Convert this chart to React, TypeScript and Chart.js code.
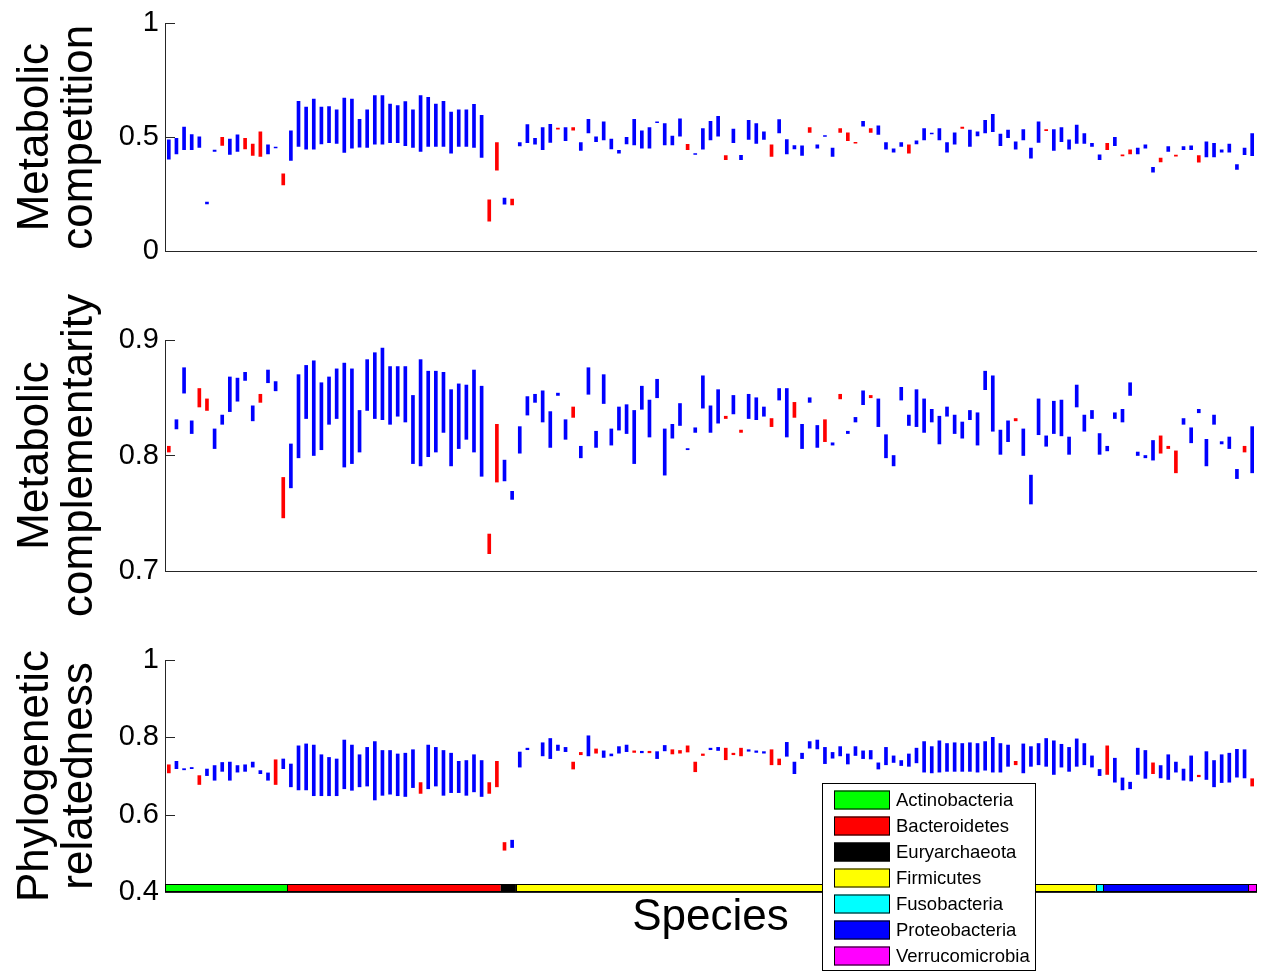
import React, { useEffect, useRef } from 'react';
import { Chart, registerables } from 'chart.js';

Chart.register(...registerables);

const FONT = '"Liberation Sans", Arial, Helvetica, sans-serif';
Chart.defaults.font.family = FONT;

// Phyla along the species axis, in plotting order
const PHYLA = ['Actinobacteria', 'Bacteroidetes', 'Euryarchaeota', 'Firmicutes', 'Fusobacteria', 'Proteobacteria', 'Verrucomicrobia'];
const PHYLUM_COUNTS = [16, 28, 2, 76, 1, 19, 1];
const PHYLUM_COLORS = ['#00ff00', '#ff0000', '#000000', '#ffff00', '#00ffff', '#0000ff', '#ff00ff'];

const SPECIES_COUNT = PHYLUM_COUNTS.reduce((a, b) => a + b, 0);
const SPECIES = Array.from({ length: SPECIES_COUNT }, (_, i) => `Species ${i + 1}`);

type Row = [number, number, number] | null;

// [upper, lower, group] for each species; group 1 is drawn red, group 0 blue
const COMPETITION: Row[] = [
  [.488,.404,0],[.495,.426,0],[.545,.445,0],[.512,.445,0],[.502,.455,0],[.215,.207,0],[.443,.437,0],[.499,.464,1],[.492,.424,0],[.510,.437,0],
  [.495,.449,1],[.470,.420,1],[.524,.416,1],[.466,.426,0],[.457,.453,0],[.339,.290,1],[.528,.398,0],[.658,.459,0],[.632,.447,0],[.668,.447,0],
  [.632,.470,0],[.635,.476,0],[.620,.473,0],[.672,.433,0],[.668,.452,0],[.579,.456,0],[.620,.455,0],[.683,.469,0],[.683,.469,0],[.646,.476,0],
  [.639,.476,0],[.657,.463,0],[.620,.455,0],[.683,.437,0],[.675,.459,0],[.646,.459,0],[.658,.459,0],[.610,.430,0],[.620,.459,0],[.620,.459,0],
  [.644,.455,0],[.596,.411,0],[.225,.131,1],[.476,.355,1],[.232,.206,0],[.228,.202,1],[.476,.462,0],[.555,.476,0],[.495,.469,0],[.542,.445,0],
  [.557,.477,0],[.540,.535,1],[.542,.485,0],[.542,.531,1],[.476,.442,0],[.579,.519,0],[.502,.480,0],[.567,.488,0],[.492,.449,0],[.442,.430,0],
  [.499,.470,0],[.579,.466,0],[.528,.452,0],[.542,.452,0],[.568,.564,0],[.560,.466,0],[.505,.466,0],[.581,.505,0],[.469,.445,1],[.428,.424,0],
  [.538,.447,0],[.570,.488,0],[.592,.505,0],[.419,.401,1],[.536,.476,0],[.420,.401,0],[.574,.490,0],[.560,.473,0],[.524,.490,0],[.466,.416,1],
  [.577,.519,0],[.490,.427,0],[.463,.449,0],[.462,.420,0],[.542,.521,1],[.466,.452,0],[.507,.503,0],[.452,.416,0],[.538,.521,1],[.519,.485,1],
  [.478,.474,1],[.570,.548,0],[.538,.521,1],[.550,.512,0],[.476,.447,0],[.449,.434,0],[.476,.459,0],[.466,.430,1],[.484,.470,0],[.538,.488,0],
  [.518,.514,0],[.538,.488,0],[.476,.434,0],[.519,.469,0],[.545,.539,1],[.531,.459,0],[.524,.506,0],[.574,.519,0],[.600,.524,0],[.514,.463,0],
  [.531,.498,0],[.480,.447,0],[.534,.488,0],[.452,.408,0],[.567,.477,0],[.533,.529,1],[.534,.442,0],[.542,.480,0],[.488,.447,0],[.553,.473,0],
  [.516,.473,0],[.473,.459,0],[.423,.401,0],[.473,.445,1],[.499,.463,0],[.422,.418,1],[.445,.427,1],[.452,.426,0],[.466,.452,0],[.368,.346,0],
  [.408,.391,1],[.459,.437,0],[.421,.417,1],[.459,.445,0],[.462,.445,0],[.419,.390,1],[.480,.413,0],[.473,.413,0],[.445,.434,0],[.470,.434,0],
  [.380,.358,0],[.452,.423,0],[.516,.419,0],
];

const COMPLEMENTARITY: Row[] = [
  [.808,.803,1],[.831,.823,0],[.876,.854,0],[.830,.819,0],[.858,.842,1],[.849,.839,1],[.823,.806,0],[.835,.827,0],[.868,.838,0],[.867,.847,0],
  [.872,.865,0],[.843,.830,0],[.853,.846,1],[.874,.863,0],[.864,.856,0],[.781,.746,1],[.810,.772,0],[.870,.798,0],[.878,.832,0],[.882,.800,0],
  [.863,.805,0],[.868,.827,0],[.875,.832,0],[.880,.790,0],[.875,.793,0],[.839,.803,0],[.883,.839,0],[.889,.832,0],[.893,.831,0],[.877,.827,0],
  [.877,.834,0],[.877,.829,0],[.852,.793,0],[.883,.791,0],[.873,.799,0],[.873,.803,0],[.872,.820,0],[.857,.791,0],[.862,.806,0],[.861,.814,0],
  [.874,.803,0],[.860,.782,0],[.732,.715,1],[.827,.777,1],[.796,.778,0],[.769,.762,0],[.825,.802,0],[.851,.835,0],[.853,.846,0],[.856,.829,0],
  [.838,.807,0],[.854,.852,0],[.831,.814,0],[.842,.833,1],[.808,.798,0],[.876,.853,0],[.821,.807,0],[.870,.845,0],[.823,.809,0],[.842,.822,0],
  [.844,.819,0],[.839,.793,0],[.860,.840,0],[.848,.816,0],[.866,.850,0],[.823,.783,0],[.827,.815,0],[.845,.826,0],[.806,.805,0],[.824,.820,0],
  [.869,.841,0],[.843,.820,0],[.857,.828,0],[.834,.832,1],[.852,.836,0],[.822,.820,1],[.853,.832,0],[.850,.831,0],[.842,.834,0],[.832,.825,1],
  [.858,.848,0],[.858,.816,0],[.846,.833,1],[.827,.806,0],[.850,.846,0],[.826,.807,0],[.831,.812,1],[.811,.809,0],[.853,.849,1],[.821,.819,0],
  [.833,.829,0],[.856,.844,0],[.852,.850,1],[.849,.825,0],[.818,.798,0],[.800,.791,0],[.859,.848,0],[.835,.826,0],[.857,.825,0],[.849,.820,0],
  [.840,.829,0],[.834,.810,0],[.842,.834,0],[.835,.819,0],[.829,.815,0],[.839,.831,0],[.837,.809,0],[.873,.857,0],[.869,.821,0],[.822,.801,0],
  [.830,.812,0],[.832,.830,1],[.823,.800,0],[.783,.758,0],[.849,.818,0],[.817,.808,0],[.847,.819,0],[.848,.817,0],[.816,.801,0],[.861,.842,0],
  [.835,.821,0],[.839,.832,0],[.819,.801,0],[.808,.804,0],[.837,.832,0],[.840,.829,0],[.863,.852,0],[.803,.800,0],[.800,.798,0],[.813,.796,0],
  [.817,.802,1],[.808,.806,1],[.804,.785,1],[.832,.827,0],[.824,.811,0],[.840,.837,0],[.814,.791,0],[.835,.827,0],[.812,.810,0],[.816,.806,0],
  [.788,.780,0],[.808,.803,1],[.825,.785,0],
];

const RELATEDNESS: Row[] = [
  [.729,.708,1],[.738,.719,0],[.719,.716,0],[.722,.719,0],[.701,.678,1],[.718,.701,0],[.727,.689,0],[.735,.712,0],[.736,.689,0],[.727,.710,0],
  [.729,.712,0],[.736,.723,0],[.714,.706,0],[.708,.689,0],[.742,.678,1],[.744,.719,0],[.731,.672,0],[.778,.664,0],[.783,.664,0],[.780,.649,0],
  [.755,.649,0],[.748,.649,0],[.744,.649,0],[.793,.667,0],[.780,.663,0],[.755,.672,0],[.774,.674,0],[.789,.638,0],[.766,.650,0],[.766,.653,0],
  [.757,.649,0],[.759,.647,0],[.768,.670,0],[.683,.655,1],[.780,.667,0],[.774,.674,0],[.766,.650,0],[.759,.657,0],[.738,.657,0],[.740,.650,0],
  [.755,.659,0],[.740,.647,0],[.683,.655,1],[.738,.672,1],[.528,.508,1],[.534,.515,0],[.762,.723,0],[.772,.768,0],null,[.786,.752,0],
  [.797,.745,0],[.780,.766,0],[.774,.763,0],[.736,.718,1],[.761,.755,1],[.804,.752,0],[.770,.759,1],[.765,.748,0],[.757,.752,0],[.776,.759,0],
  [.780,.763,0],[.765,.761,1],[.764,.760,0],[.764,.760,1],[.763,.745,0],[.779,.765,0],[.768,.757,1],[.766,.759,1],[.778,.762,1],[.736,.711,1],
  [.757,.753,1],[.772,.768,0],[.774,.766,0],[.772,.742,1],[.759,.755,1],[.772,.752,1],[.768,.764,0],[.765,.761,0],[.763,.759,0],[.768,.729,1],
  [.744,.729,1],[.787,.751,0],[.736,.706,0],[.759,.745,0],[.789,.772,0],[.793,.770,0],[.774,.732,0],[.761,.746,0],[.776,.752,0],[.757,.731,0],
  [.776,.753,0],[.765,.745,0],[.766,.744,0],[.734,.718,0],[.774,.729,0],[.752,.735,0],[.740,.727,0],[.757,.725,0],[.772,.734,0],[.789,.710,0],
  [.776,.708,0],[.791,.710,0],[.784,.712,0],[.786,.712,0],[.784,.712,0],[.786,.712,0],[.784,.710,0],[.789,.715,0],[.800,.710,0],[.784,.710,0],
  [.780,.725,0],[.738,.729,1],[.783,.708,0],[.776,.725,0],[.784,.729,0],[.797,.725,0],[.791,.704,0],[.782,.723,0],[.774,.712,0],[.796,.725,0],
  [.784,.729,0],[.752,.723,0],[.717,.701,0],[.778,.704,1],[.746,.684,0],[.695,.664,0],[.684,.667,0],[.772,.704,0],[.766,.694,0],[.734,.706,1],
  [.727,.695,0],[.755,.691,0],[.736,.710,0],[.718,.689,0],[.752,.687,0],[.702,.698,1],[.763,.691,0],[.740,.672,0],[.755,.683,0],[.759,.684,0],
  [.769,.697,0],[.768,.695,0],[.693,.674,1],
];

const COMPETITION_TICKS = [0, 0.5, 1];
const COMPLEMENTARITY_TICKS = [0.7, 0.8, 0.9];
const RELATEDNESS_TICKS = [0.4, 0.6, 0.8, 1];
// value band of the phylum strip along the bottom of the last panel
const STRIP_RANGE = [0.4, 0.42];

const GROUP_COLORS = ['#0000ff', '#ff0000'];
const AXIS_COLOR = '#262626';
const PAGE_W = 1262;
const Y_AXIS_W = 165;
const RIGHT_PAD = 6;

type Panel = {
  rows: Row[];
  ticks: number[];
  title: string[];
  top: number;
  height: number;
  plotTop: number;
  plotBottom: number;
  strip?: boolean;
  xTitle?: string;
};

const PANELS: Panel[] = [
  { rows: COMPETITION, ticks: COMPETITION_TICKS, title: ['Metabolic', 'competition'], top: 0, height: 280, plotTop: 20, plotBottom: 251 },
  { rows: COMPLEMENTARITY, ticks: COMPLEMENTARITY_TICKS, title: ['Metabolic', 'complementarity'], top: 280, height: 350, plotTop: 340, plotBottom: 571 },
  { rows: RELATEDNESS, ticks: RELATEDNESS_TICKS, title: ['Phylogenetic', 'relatedness'], top: 630, height: 342, plotTop: 660, plotBottom: 892, strip: true, xTitle: 'Species' },
];

function decorations(panel: Panel) {
  return {
    id: 'panelDecorations',
    afterDatasetsDraw(chart: any) {
      const { ctx, chartArea, scales } = chart;
      const xs = scales.x;
      const ys = scales.y;
      ctx.save();
      // tick marks pointing into the plot
      ctx.strokeStyle = AXIS_COLOR;
      ctx.lineWidth = 1;
      ctx.beginPath();
      for (const v of panel.ticks) {
        const py = Math.round(ys.getPixelForValue(v)) + 0.5;
        ctx.moveTo(chartArea.left, py);
        ctx.lineTo(chartArea.left + 10, py);
      }
      ctx.stroke();

      // phylum strip under the bars
      if (panel.strip) {
        const half = (xs.getPixelForValue(1) - xs.getPixelForValue(0)) / 2;
        const yTop = ys.getPixelForValue(STRIP_RANGE[1]);
        const yBot = ys.getPixelForValue(STRIP_RANGE[0]);
        let start = 0;
        PHYLUM_COUNTS.forEach((n, k) => {
          const x0 = xs.getPixelForValue(start) - half;
          const x1 = xs.getPixelForValue(start + n - 1) + half;
          ctx.fillStyle = PHYLUM_COLORS[k];
          ctx.fillRect(x0, yTop, x1 - x0, yBot - yTop);
          ctx.strokeStyle = '#000';
          ctx.lineWidth = 1;
          ctx.strokeRect(Math.round(x0) + 0.5, Math.round(yTop) + 0.5, Math.round(x1 - x0), Math.round(yBot - yTop) - 1);
          start += n;
        });
      }
      ctx.restore();
    },
    afterDraw(chart: any) {
      const { ctx, chartArea } = chart;
      ctx.save();
      // two-line vertical axis title
      const cy = (chartArea.top + chartArea.bottom) / 2;
      ctx.fillStyle = '#000';
      ctx.font = `44px ${FONT}`;
      ctx.textAlign = 'center';
      ctx.textBaseline = 'middle';
      const lineX = [36, 80];
      panel.title.forEach((line, i) => {
        ctx.save();
        ctx.translate(lineX[i], cy);
        ctx.rotate(-Math.PI / 2);
        ctx.fillText(line, 0, 0);
        ctx.restore();
      });

      // phylum legend
      if (panel.strip) {
        const bx = 822;
        const by = 783 - panel.top;
        const bw = 213;
        const bh = 187;
        ctx.fillStyle = '#fff';
        ctx.fillRect(bx, by, bw, bh);
        ctx.strokeStyle = '#000';
        ctx.lineWidth = 1;
        ctx.strokeRect(bx + 0.5, by + 0.5, bw, bh);
        ctx.font = `18.5px ${FONT}`;
        ctx.textAlign = 'left';
        ctx.textBaseline = 'middle';
        PHYLA.forEach((name, k) => {
          const rowY = by + 16.5 + k * 26;
          ctx.fillStyle = PHYLUM_COLORS[k];
          ctx.fillRect(bx + 12, rowY - 9, 56, 19);
          ctx.strokeStyle = '#000';
          ctx.strokeRect(bx + 12.5, rowY - 8.5, 55, 18);
          ctx.fillStyle = '#000';
          ctx.fillText(name, bx + 74, rowY + 1);
        });
      }
      ctx.restore();
    },
  };
}

function PanelChart({ panel }: { panel: Panel }) {
  const ref = useRef<HTMLCanvasElement>(null);

  useEffect(() => {
    const canvas = ref.current;
    if (!canvas) return;
    const plotBottomLocal = panel.plotBottom - panel.top;
    const xAxisHeight = panel.xTitle ? panel.height - plotBottomLocal : 0;
    const padBottom = panel.xTitle ? 0 : panel.height - plotBottomLocal;
    const ticks = panel.ticks;

    const chart = new Chart(canvas, {
      type: 'bar',
      data: {
        labels: SPECIES,
        datasets: [
          {
            data: panel.rows.map((r) => (r ? [r[1], r[0]] : null)) as any,
            backgroundColor: panel.rows.map((r) => (r ? GROUP_COLORS[r[2]] : 'rgba(0,0,0,0)')),
            borderWidth: 0,
            barThickness: 3,
          },
        ],
      },
      options: {
        responsive: false,
        animation: false,
        events: [],
        layout: {
          padding: { top: panel.plotTop - panel.top, bottom: padBottom, left: 0, right: RIGHT_PAD },
        },
        plugins: {
          legend: { display: false },
          tooltip: { enabled: false },
        },
        scales: {
          x: {
            type: 'category',
            offset: true,
            grid: { display: false, drawTicks: false },
            border: { display: true, color: AXIS_COLOR, width: 1 },
            ticks: { display: false },
            title: panel.xTitle
              ? {
                  display: true,
                  text: panel.xTitle,
                  color: '#000',
                  font: { size: 44, family: FONT, lineHeight: 1 },
                  padding: { top: 0, bottom: 32 },
                }
              : { display: false },
            afterFit: (s: any) => {
              s.height = xAxisHeight;
            },
          },
          y: {
            type: 'linear',
            min: ticks[0],
            max: ticks[ticks.length - 1],
            grid: { display: false, drawTicks: false },
            border: { display: true, color: AXIS_COLOR, width: 1 },
            ticks: {
              color: '#000',
              font: { size: 29, family: FONT },
              padding: 6,
              callback: (v: any) => String(Number(v)),
            },
            afterBuildTicks: (s: any) => {
              s.ticks = ticks.map((v) => ({ value: v }));
            },
            afterFit: (s: any) => {
              s.width = Y_AXIS_W;
            },
          },
        },
      },
      plugins: [decorations(panel)],
    });
    return () => chart.destroy();
  }, [panel]);

  return (
    <canvas
      ref={ref}
      width={PAGE_W}
      height={panel.height}
      style={{ position: 'absolute', left: 0, top: panel.top, width: PAGE_W, height: panel.height }}
    />
  );
}

export default function App() {
  return (
    <div style={{ position: 'fixed', left: 0, top: 0, width: PAGE_W, height: 972, background: '#fff', overflow: 'hidden' }}>
      {PANELS.map((p, i) => (
        <PanelChart key={i} panel={p} />
      ))}
    </div>
  );
}
